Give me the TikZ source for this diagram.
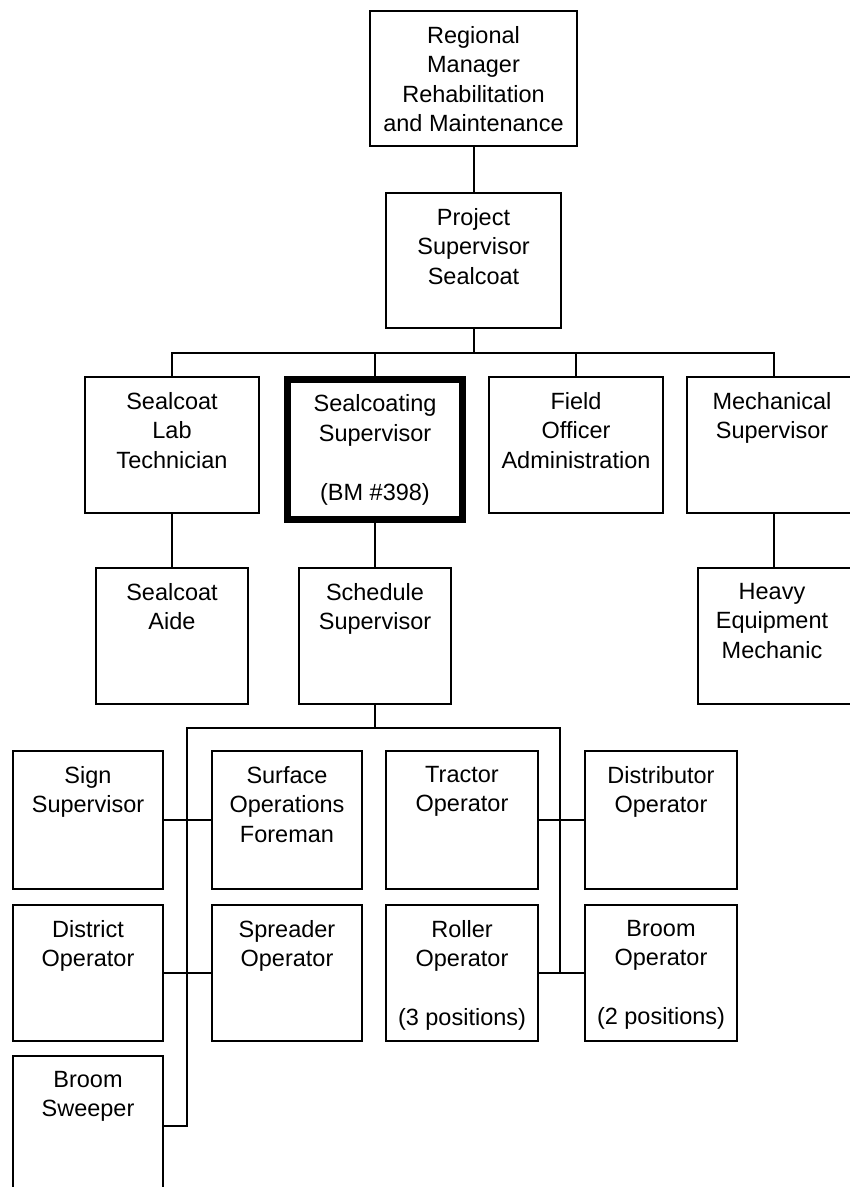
\documentclass[tikz,border=0pt]{standalone}
\usepackage{fontspec}
\setmainfont{Liberation Sans}
\begin{document}
\begin{tikzpicture}[x=1pt,y=-1pt,
  box/.style={draw=black, line width=2pt, inner sep=0pt, fill=none},
  thickbox/.style={draw=black, line width=6.5pt, inner sep=0pt},
  txt/.style={anchor=north, inner sep=0pt, align=center, text=black,
    font=\fontsize{23.5}{29.5}\selectfont},
  wire/.style={draw=black, line width=2pt}]
\useasboundingbox (0,0) rectangle (850,1187);
\clip (0,0) rectangle (850,1187);
\fill[white] (0,0) rectangle (850,1187);
% boxes
\node[box, minimum width=207pt, minimum height=135pt] (reg) at (473.5,78.5) {};
\node[box, minimum width=175pt, minimum height=135pt] (proj) at (473.5,260.5) {};
\node[box, minimum width=174pt, minimum height=136pt] (lab) at (172,445) {};
\node[thickbox, minimum width=175pt, minimum height=140pt] (scs) at (375,449.5) {};
\node[box, minimum width=174pt, minimum height=136pt] (field) at (576,445) {};
\node[box, minimum width=174pt, minimum height=136pt] (mech) at (774,445) {};
\node[box, minimum width=152pt, minimum height=136pt] (aide) at (172,636) {};
\node[box, minimum width=152pt, minimum height=136pt] (sched) at (375,636) {};
\node[box, minimum width=156pt, minimum height=136pt] (heavy) at (776,636) {};
\node[box, minimum width=150pt, minimum height=138pt] (sign) at (88,820) {};
\node[box, minimum width=150pt, minimum height=138pt] (surf) at (287,820) {};
\node[box, minimum width=152pt, minimum height=138pt] (tract) at (462,820) {};
\node[box, minimum width=152pt, minimum height=138pt] (distr) at (661,820) {};
\node[box, minimum width=150pt, minimum height=136pt] (district) at (88,973) {};
\node[box, minimum width=150pt, minimum height=136pt] (spread) at (287,973) {};
\node[box, minimum width=152pt, minimum height=136pt] (roller) at (462,973) {};
\node[box, minimum width=152pt, minimum height=136pt] (broomop) at (661,973) {};
\node[box, minimum width=150pt, minimum height=140pt] (sweeper) at (88,1126) {};
% texts
\node[txt] (reg-t) at ([yshift=-16pt]reg.north) {Regional\\Manager\\Rehabilitation\\and Maintenance};
\node[txt] (proj-t) at ([yshift=-16pt]proj.north) {Project\\Supervisor\\Sealcoat};
\node[txt] (lab-t) at ([yshift=-16pt]lab.north) {Sealcoat\\Lab\\Technician};
\node[txt] (scs-t) at ([yshift=-18.5pt]scs.north) {Sealcoating\\Supervisor\\[29.5pt](BM \#398)};
\node[txt] (field-t) at ([yshift=-16pt]field.north) {Field\\Officer\\Administration};
\node[txt] (mech-t) at ([xshift=-2pt,yshift=-16pt]mech.north) {Mechanical\\Supervisor};
\node[txt] (aide-t) at ([yshift=-16pt]aide.north) {Sealcoat\\Aide};
\node[txt] (sched-t) at ([yshift=-16pt]sched.north) {Schedule\\Supervisor};
\node[txt] (heavy-t) at ([xshift=-4pt,yshift=-16pt]heavy.north) {Heavy\\Equipment\\Mechanic};
\node[txt] (sign-t) at ([yshift=-16pt]sign.north) {Sign\\Supervisor};
\node[txt] (surf-t) at ([yshift=-16pt]surf.north) {Surface\\Operations\\Foreman};
\node[txt] (tract-t) at ([yshift=-16pt]tract.north) {Tractor\\Operator};
\node[txt] (distr-t) at ([yshift=-16pt]distr.north) {Distributor\\Operator};
\node[txt] (district-t) at ([yshift=-16pt]district.north) {District\\Operator};
\node[txt] (spread-t) at ([yshift=-16pt]spread.north) {Spreader\\Operator};
\node[txt] (roller-t) at ([yshift=-16pt]roller.north) {Roller\\Operator\\[29.5pt](3 positions)};
\node[txt] (broomop-t) at ([yshift=-16pt]broomop.north) {Broom\\Operator\\[29.5pt](2 positions)};
\node[txt] (sweeper-t) at ([yshift=-16pt]sweeper.north) {Broom\\Sweeper};
% connectors
\coordinate (bus1) at (473.5,353);
\coordinate (bus2) at (375,728);
\coordinate (lv) at (187,728);
\coordinate (rv) at (560,728);
\draw[wire] (reg.south) -- (proj.north);
\draw[wire] (proj.south) -- (bus1);
\draw[wire] (lab.north) |- (bus1) -| (mech.north);
\draw[wire] (scs.north) -- (scs.north |- bus1);
\draw[wire] (field.north) -- (field.north |- bus1);
\draw[wire] (lab.south) -- (aide.north);
\draw[wire] (scs.south) -- (sched.north);
\draw[wire] (mech.south) -- (mech.south |- heavy.north);
\draw[wire] (sched.south) -- (bus2);
\draw[wire] (sweeper.east) -| (lv) -- (rv) |- (broomop.west);
\draw[wire] (sign.east) -- (surf.west);
\draw[wire] (district.east) -- (spread.west);
\draw[wire] (tract.east) -- (distr.west);
\draw[wire] (roller.east) -- (broomop.west);
\end{tikzpicture}
\end{document}
